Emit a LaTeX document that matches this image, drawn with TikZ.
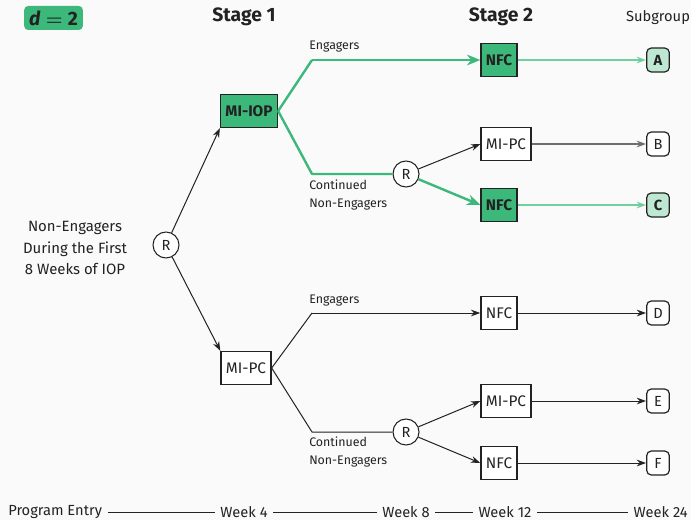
\documentclass[tikz,border=0pt]{standalone}
\usepackage{fontspec}
\setmainfont{Fira Sans}
\usetikzlibrary{arrows.meta,calc}
\definecolor{grn}{HTML}{3CB87A}
\definecolor{lgrn}{HTML}{BFE8D3}
\definecolor{mgrn}{HTML}{6FCF9F}
\definecolor{ink}{HTML}{222222}
\definecolor{bg}{HTML}{FAFAFA}
\definecolor{gline}{HTML}{6E6E6E}
\tikzset{
  box/.style={draw=ink, line width=1.2pt, fill=white, minimum height=24.5pt, inner xsep=3.6pt, font=\fontsize{11.5}{13}\selectfont, text=ink},
  gbox/.style={box, fill=grn, font=\fontsize{11.5}{13}\selectfont\bfseries},
  rnode/.style={circle, draw=ink, line width=0.8pt, fill=white, minimum size=19.5pt, inner sep=0pt, font=\fontsize{11}{13}\selectfont, text=ink},
  sub/.style={draw=ink, line width=0.9pt, rounded corners=3.5pt, fill=white, minimum width=17pt, minimum height=18pt, inner sep=0pt, font=\fontsize{11}{13}\selectfont, text=ink},
  gsub/.style={sub, fill=lgrn, font=\fontsize{11}{13}\selectfont\bfseries},
  lab/.style={font=\fontsize{9.3}{12.8}\selectfont, text=ink, align=left, inner sep=0pt},
  head/.style={font=\fontsize{14.5}{16}\selectfont\bfseries, text=ink},
  axis/.style={font=\fontsize{11}{13}\selectfont, text=ink, inner sep=0pt},
  arr/.style={draw=ink, line width=0.75pt, -{Stealth[length=7pt,width=5pt]}},
  ln/.style={draw=ink, line width=0.75pt},
  garr/.style={draw=grn, line width=1.8pt, -{Stealth[length=10pt,width=8pt]}},
  gln/.style={draw=grn, line width=1.8pt, line join=round},
  larr/.style={draw=mgrn, line width=1pt, -{Stealth[length=7pt,width=5pt]}},
  grarr/.style={draw=gline, line width=1.1pt, -{Stealth[length=7pt,width=5pt]}},
}
\begin{document}
\begin{tikzpicture}[x=0.75pt,y=-0.75pt]
\fill[bg] (0,0) rectangle (691,520);
\useasboundingbox (0,0) rectangle (691,520);

% badge and headings
\node[fill=grn, rounded corners=3pt, minimum width=44pt, minimum height=18pt, inner sep=1pt, text=ink, font=\fontsize{14.5}{16}\selectfont\bfseries] (badge) at (53.5,18) {\textit{d}\kern4pt{\boldmath$=$}\kern4pt2};
\node[head] (st1) at (244,17) {Stage 1};
\node[head] (st2) at (501,17) {Stage 2};
\node[font=\fontsize{11}{13}\selectfont, text=ink] (subg) at (658,18) {Subgroup};

% left text
\node[align=center, font=\fontsize{11.2}{16}\selectfont, text=ink] (pop) at (75,248) {Non-Engagers\\During the First\\8 Weeks of IOP};

% main nodes
\node[rnode] (r0) at (166,245) {R};
\node[gbox, minimum width=42pt] (miiop) at (249,111) {MI-IOP};
\node[box] (mipc) at (246,368) {MI-PC};

% upper branch
\coordinate (ue) at (312,60);
\coordinate (uc) at (312,174);
\node[rnode] (r1) at (406,174) {R};
\node[gbox] (nfcA) at (499,60) {NFC};
\node[box] (mipcB) at (506,144) {MI-PC};
\node[gbox] (nfcC) at (499,205) {NFC};
\node[gsub] (A) at (658,60) {A};
\node[sub] (B) at (658,144) {B};
\node[gsub] (C) at (658,205) {C};
\node[lab, anchor=west] (le1) at (309,47) {Engagers};
\node[lab, anchor=west] (lc1) at (309,195) {Continued\\Non-Engagers};

% lower branch
\coordinate (le) at (312,313);
\coordinate (lc) at (312,432);
\node[rnode] (r2) at (406,432) {R};
\node[box] (nfcD) at (499,313) {NFC};
\node[box] (mipcE) at (506,401) {MI-PC};
\node[box] (nfcF) at (499,463) {NFC};
\node[sub] (D) at (658,313) {D};
\node[sub] (E) at (658,401) {E};
\node[sub] (F) at (658,463) {F};
\node[lab, anchor=west] (le2) at (309,301) {Engagers};
\node[lab, anchor=west] (lc2) at (309,452) {Continued\\Non-Engagers};

% connectors
\draw[arr] (r0) -- (miiop.south west);
\draw[arr] (r0) -- (mipc.north west);
\draw[gln] (miiop.east) -- (ue);
\draw[garr] (ue) -- (nfcA.west);
\draw[gln] (miiop.east) -- (uc) -- (r1.west);
\draw[arr] (r1) -- (mipcB.west);
\draw[garr] (r1) -- (nfcC.west);
\draw[larr] (nfcA) -- (A);
\draw[grarr] (mipcB) -- (B);
\draw[larr] (nfcC) -- (C);

\draw[ln] (mipc.east) -- (le);
\draw[arr] (le) -- (nfcD.west);
\draw[ln] (mipc.east) -- (lc) -- (r2.west);
\draw[arr] (r2) -- (mipcE.west);
\draw[arr] (r2) -- (nfcF.west);
\draw[arr] (nfcD) -- (D);
\draw[arr] (mipcE) -- (E);
\draw[arr] (nfcF) -- (F);

% time axis
\node[axis, anchor=west] (t0) at (8,512) {Program Entry};
\node[axis] (t4) at (244,512) {Week 4};
\node[axis] (t8) at (406,512) {Week 8};
\node[axis] (t12) at (505,512) {Week 12};
\node[axis, anchor=east] (t24) at (688,512) {Week 24};
\draw[ln, line width=0.6pt] ([xshift=4pt]t0.east) -- ([xshift=-4pt]t4.west);
\draw[ln, line width=0.6pt] ([xshift=4pt]t4.east) -- ([xshift=-4pt]t8.west);
\draw[ln, line width=0.6pt] ([xshift=4pt]t8.east) -- ([xshift=-4pt]t12.west);
\draw[ln, line width=0.6pt] ([xshift=4pt]t12.east) -- ([xshift=-4pt]t24.west);
\end{tikzpicture}
\end{document}
